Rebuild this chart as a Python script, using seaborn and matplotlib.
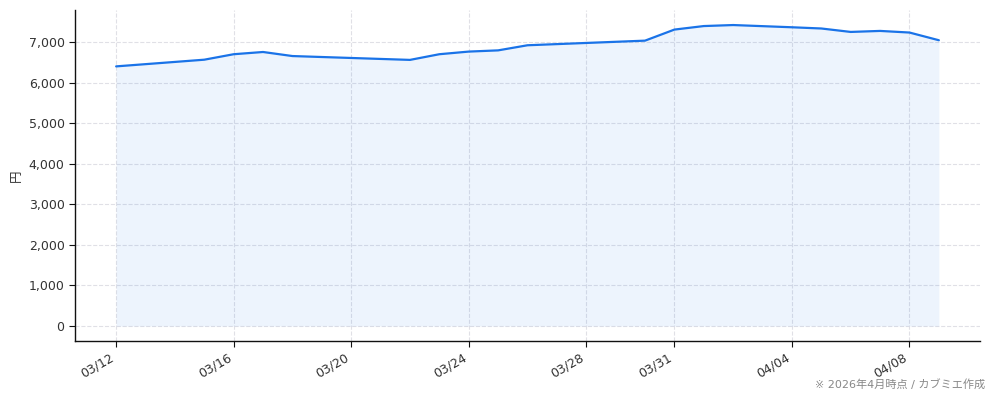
import matplotlib
matplotlib.use("Agg")
import matplotlib.pyplot as plt
import matplotlib.dates as mdates
import matplotlib.ticker as mticker
import seaborn as sns
import pandas as pd

dates = ["2026-03-12", "2026-03-15", "2026-03-16", "2026-03-17", "2026-03-18",
         "2026-03-22", "2026-03-23", "2026-03-24", "2026-03-25", "2026-03-26",
         "2026-03-30", "2026-03-31", "2026-04-01", "2026-04-02", "2026-04-04",
         "2026-04-05", "2026-04-06", "2026-04-07", "2026-04-08", "2026-04-09"]
prices = [6405, 6570, 6705, 6760, 6660,
          6565, 6705, 6770, 6800, 6926,
          7040, 7313, 7400, 7425, 7370,
          7340, 7255, 7280, 7240, 7050]
tick_dates = ["2026-03-12", "2026-03-16", "2026-03-20", "2026-03-24",
              "2026-03-28", "2026-03-31", "2026-04-04", "2026-04-08"]
y_label = "円"
footer = "※ 2026年4月時点 / カブミエ作成"

sns.set_theme(style="white")
plt.rcParams["font.family"] = ["DejaVu Sans", "Noto Sans CJK JP"]

df = pd.DataFrame({"date": pd.to_datetime(dates), "price": prices})

fig = plt.figure(figsize=(9.94, 4.01), dpi=100)
ax = fig.add_axes([75 / 994, 1 - 341 / 401, (980 - 75) / 994, (341 - 10) / 401])

line_color = "#1a73e8"
sns.lineplot(data=df, x="date", y="price", ax=ax, color=line_color, linewidth=1.6)
ax.fill_between(df["date"], df["price"], 0, color=line_color, alpha=0.08, linewidth=0)

ax.set_xticks(pd.to_datetime(tick_dates))
ax.xaxis.set_major_formatter(mdates.DateFormatter("%m/%d"))
ax.yaxis.set_major_locator(mticker.MultipleLocator(1000))
ax.yaxis.set_major_formatter(mticker.FuncFormatter(lambda v, p: f"{int(v):,}"))

ax.grid(True, linestyle="--", color="#e0e0e6", linewidth=0.8)
ax.set_axisbelow(True)
for s in ["top", "right"]:
    ax.spines[s].set_visible(False)
for s in ["left", "bottom"]:
    ax.spines[s].set_color("#111111")
    ax.spines[s].set_linewidth(1.0)

ax.tick_params(axis="both", which="major", length=4, width=0.8, color="#111111",
               labelsize=9, labelcolor="#333333", bottom=True, left=True)
plt.setp(ax.get_xticklabels(), rotation=30, ha="right")
ax.set_xlabel("")
ax.set_ylabel(y_label, fontsize=9, color="#333333", family=["Noto Sans CJK JP"])

fig.text(985 / 994, 1 - 384 / 401, footer, ha="right", va="center",
         fontsize=8, color="#888888")

fig.savefig("out.png", dpi=100)
